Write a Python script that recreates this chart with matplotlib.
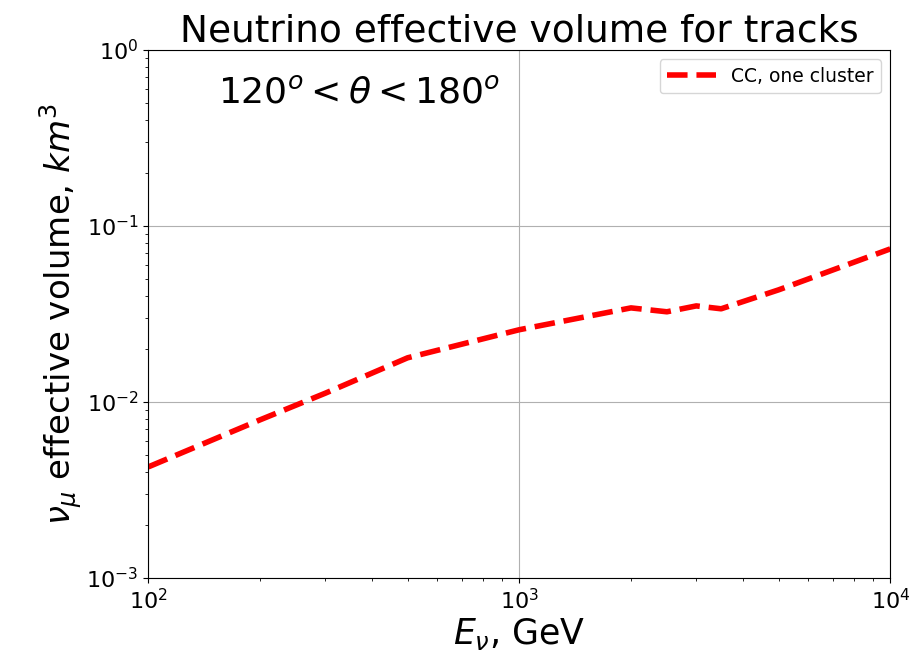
import numpy as np
import matplotlib
matplotlib.use('Agg')
import matplotlib.pyplot as plt

energy = [100, 200, 300, 500, 1000, 2000, 2500, 3000, 3500, 5000, 10000]
volume = [0.00427, 0.0079, 0.0112, 0.0178, 0.0257, 0.0342, 0.0325, 0.0351, 0.0338, 0.0433, 0.074]

fig = plt.figure(figsize=(9.15, 6.65), dpi=100)
ax = fig.add_axes([0.162, 0.131, 0.811, 0.794])

ax.plot(energy, volume, 'r--', lw=4, label='CC, one cluster')
ax.set_xscale('log')
ax.set_yscale('log')
ax.set_xlim(1e2, 1e4)
ax.set_ylim(1e-3, 1e0)
ax.grid(True, which='major')
ax.tick_params(labelsize=16)

ax.set_title('Neutrino effective volume for tracks', fontsize=27, pad=6)
ax.set_xlabel(r'$E_{\nu}$, GeV', fontsize=25, labelpad=2)
ax.set_ylabel(r'$\nu_{\mu}$ effective volume, $km^3$', fontsize=24.5, labelpad=2)
ax.text(0.094, 0.92, r'$120^o < \theta < 180^o$', transform=ax.transAxes, fontsize=26, va='center')
ax.legend(loc='upper right', fontsize=13.5, handlelength=2.6)

fig.savefig('out.png')
